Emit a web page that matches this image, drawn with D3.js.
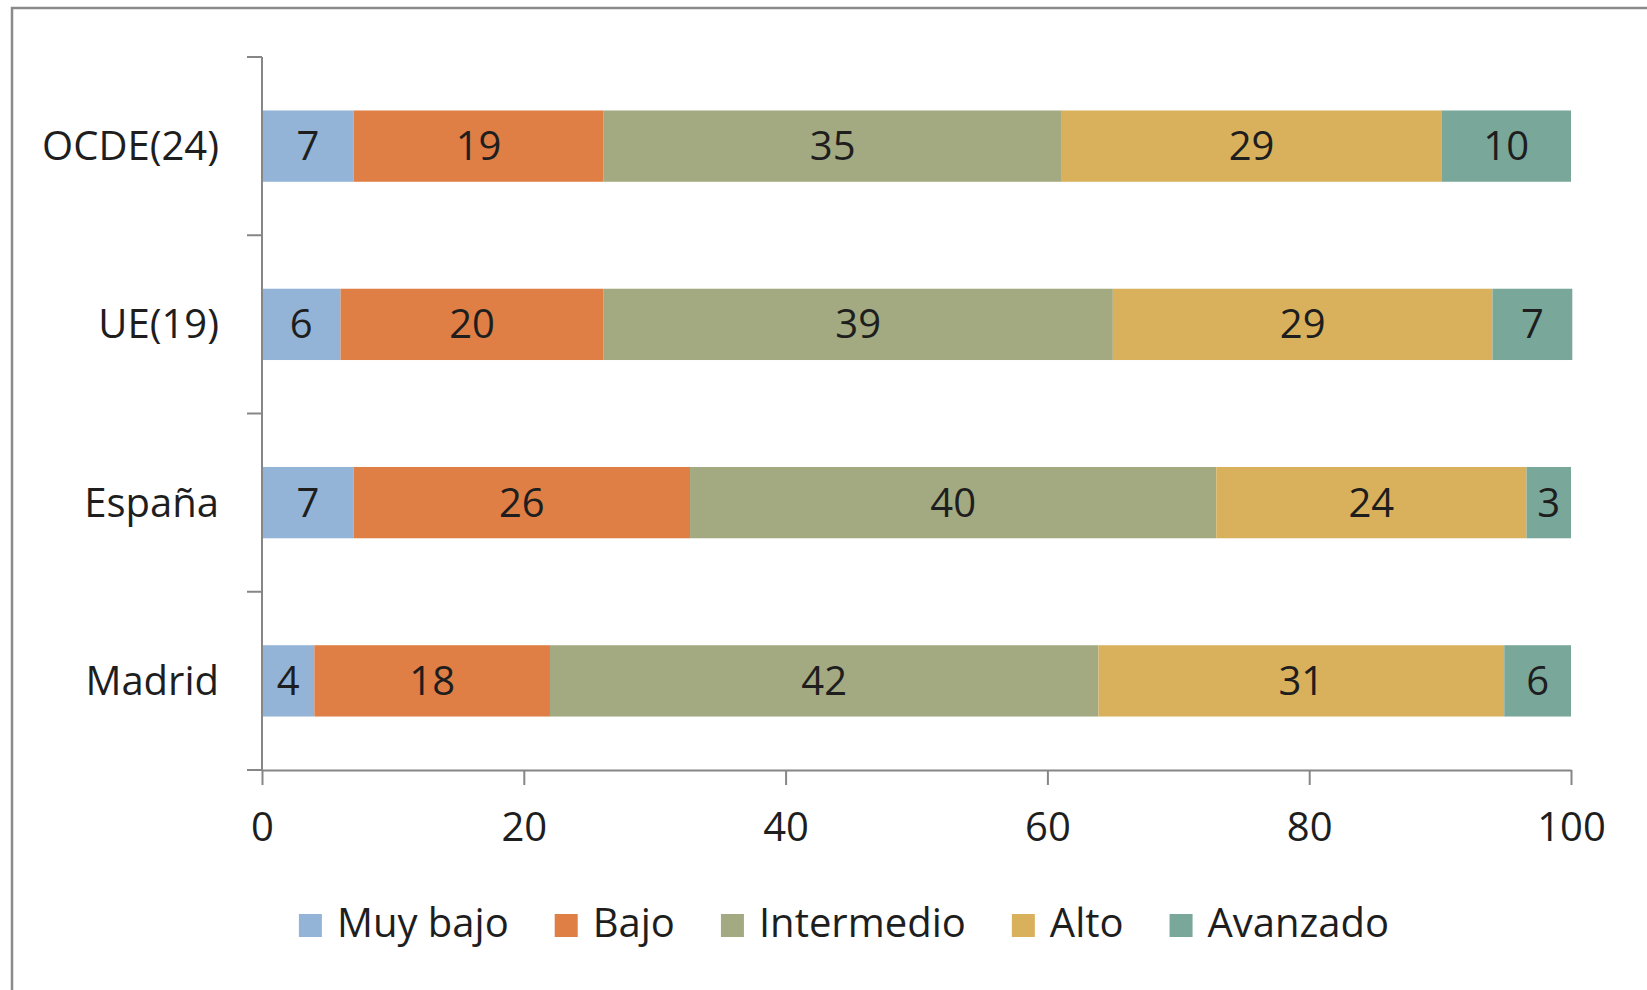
<!DOCTYPE html>
<html>
<head>
<meta charset="utf-8">
<script src="https://d3js.org/d3.v7.min.js"></script>
<style>
  body { margin: 0; background: #fff; }
  text { font-family: "Open Sans", Lato, sans-serif; fill: #1e1e1e; }
</style>
</head>
<body>
<div id="chart"></div>
<script>
// categories, top to bottom
var categories = ["OCDE(24)", "UE(19)", "España", "Madrid"];
var seriesNames = ["Muy bajo", "Bajo", "Intermedio", "Alto", "Avanzado"];
var seriesColors = ["#93b4d6", "#df7f46", "#a3aa81", "#d9b15c", "#79a89b"];

// segment widths (percent)
var muyBajo    = [7.0, 6.0, 7.0, 4.0];
var bajo       = [19.1, 20.1, 25.7, 18.0];
var intermedio = [35.0, 38.9, 40.2, 41.9];
var alto       = [29.0, 29.0, 23.7, 31.0];
var avanzado   = [9.9, 6.1, 3.4, 5.1];

// printed data labels
var muyBajoLabels    = [7, 6, 7, 4];
var bajoLabels       = [19, 20, 26, 18];
var intermedioLabels = [35, 39, 40, 42];
var altoLabels       = [29, 29, 24, 31];
var avanzadoLabels   = [10, 7, 3, 6];

var xTicks = [0, 20, 40, 60, 80, 100];

var values = [muyBajo, bajo, intermedio, alto, avanzado];
var labels = [muyBajoLabels, bajoLabels, intermedioLabels, altoLabels, avanzadoLabels];

var width = 1647, height = 990;
var fontSize = 40;

var svg = d3.select("#chart").append("svg")
    .attr("width", width)
    .attr("height", height);

// outer frame
svg.append("rect")
    .attr("x", 12).attr("y", 8)
    .attr("width", 1660).attr("height", 1000)
    .attr("fill", "none")
    .attr("stroke", "#8a8a8a")
    .attr("stroke-width", 2.5);

var x = d3.scaleLinear().domain([0, 100]).range([262, 1571]);
var y = d3.scaleBand().domain(categories).range([57, 770])
    .paddingInner(0.6).paddingOuter(0.3);

// build rows for the stack
var rows = categories.map(function(c, i) {
  var r = { category: c };
  seriesNames.forEach(function(s, j) {
    r[s] = values[j][i];
    r[s + "_label"] = labels[j][i];
  });
  return r;
});

var stacked = d3.stack().keys(seriesNames)(rows);

var layer = svg.selectAll("g.layer")
    .data(stacked)
  .enter().append("g")
    .attr("class", "layer")
    .attr("fill", function(d, i) { return seriesColors[i]; });

layer.selectAll("rect")
    .data(function(d) { return d; })
  .enter().append("rect")
    .attr("x", function(d) { return x(d[0]); })
    .attr("y", function(d) { return y(d.data.category); })
    .attr("width", function(d) { return x(d[1]) - x(d[0]); })
    .attr("height", y.bandwidth());

// data labels
stacked.forEach(function(s) {
  svg.append("g").selectAll("text")
      .data(s)
    .enter().append("text")
      .attr("x", function(d) { return (x(d[0]) + x(d[1])) / 2; })
      .attr("y", function(d) { return y(d.data.category) + y.bandwidth() / 2 + 14; })
      .attr("text-anchor", "middle")
      .style("font-size", fontSize + "px")
      .text(function(d) { return d.data[s.key + "_label"]; });
});

// x axis
var xAxis = svg.append("g")
    .attr("transform", "translate(0," + y.range()[1] + ")")
    .call(d3.axisBottom(x).tickValues(xTicks).tickSize(15).tickSizeOuter(0).tickPadding(28));

xAxis.selectAll("path, line").attr("stroke", "#868686").attr("stroke-width", 2);
xAxis.selectAll("text")
    .style("font-size", fontSize + "px")
    .style("font-family", "'Open Sans', sans-serif")
    .attr("fill", "#1e1e1e");

// y axis line, boundary ticks and category labels
var yAxis = svg.append("g");
yAxis.append("line")
    .attr("x1", x(0)).attr("x2", x(0))
    .attr("y1", y.range()[0]).attr("y2", y.range()[1])
    .attr("stroke", "#868686").attr("stroke-width", 2);

var bounds = categories.map(function(c) { return y(c) - y.step() * y.paddingInner() / 2; });
bounds.push(y.range()[1]);

yAxis.selectAll("line.tick")
    .data(bounds)
  .enter().append("line")
    .attr("class", "tick")
    .attr("x1", x(0) - 15).attr("x2", x(0))
    .attr("y1", function(d) { return d; })
    .attr("y2", function(d) { return d; })
    .attr("stroke", "#868686").attr("stroke-width", 2);

yAxis.selectAll("text")
    .data(categories)
  .enter().append("text")
    .attr("x", 219)
    .attr("y", function(d) { return y(d) + y.bandwidth() / 2 + 14; })
    .attr("text-anchor", "end")
    .style("font-size", fontSize + "px")
    .text(function(d) { return d; });

// legend, centred under the chart
var legend = svg.append("g");
var item = legend.selectAll("g")
    .data(seriesNames)
  .enter().append("g");

item.append("rect")
    .attr("width", 23).attr("height", 23)
    .attr("y", 914)
    .attr("fill", function(d, i) { return seriesColors[i]; });

item.append("text")
    .attr("x", 38)
    .attr("y", 937)
    .style("font-size", fontSize + "px")
    .text(function(d) { return d; });

var gap = 46;
var cursor = 0;
item.each(function() {
  var g = d3.select(this);
  var w = 38 + g.select("text").node().getComputedTextLength();
  g.attr("transform", "translate(" + cursor + ",0)");
  cursor += w + gap;
});
var legendWidth = cursor - gap;
legend.attr("transform", "translate(" + (844 - legendWidth / 2) + ",0)");
</script>
</body>
</html>
